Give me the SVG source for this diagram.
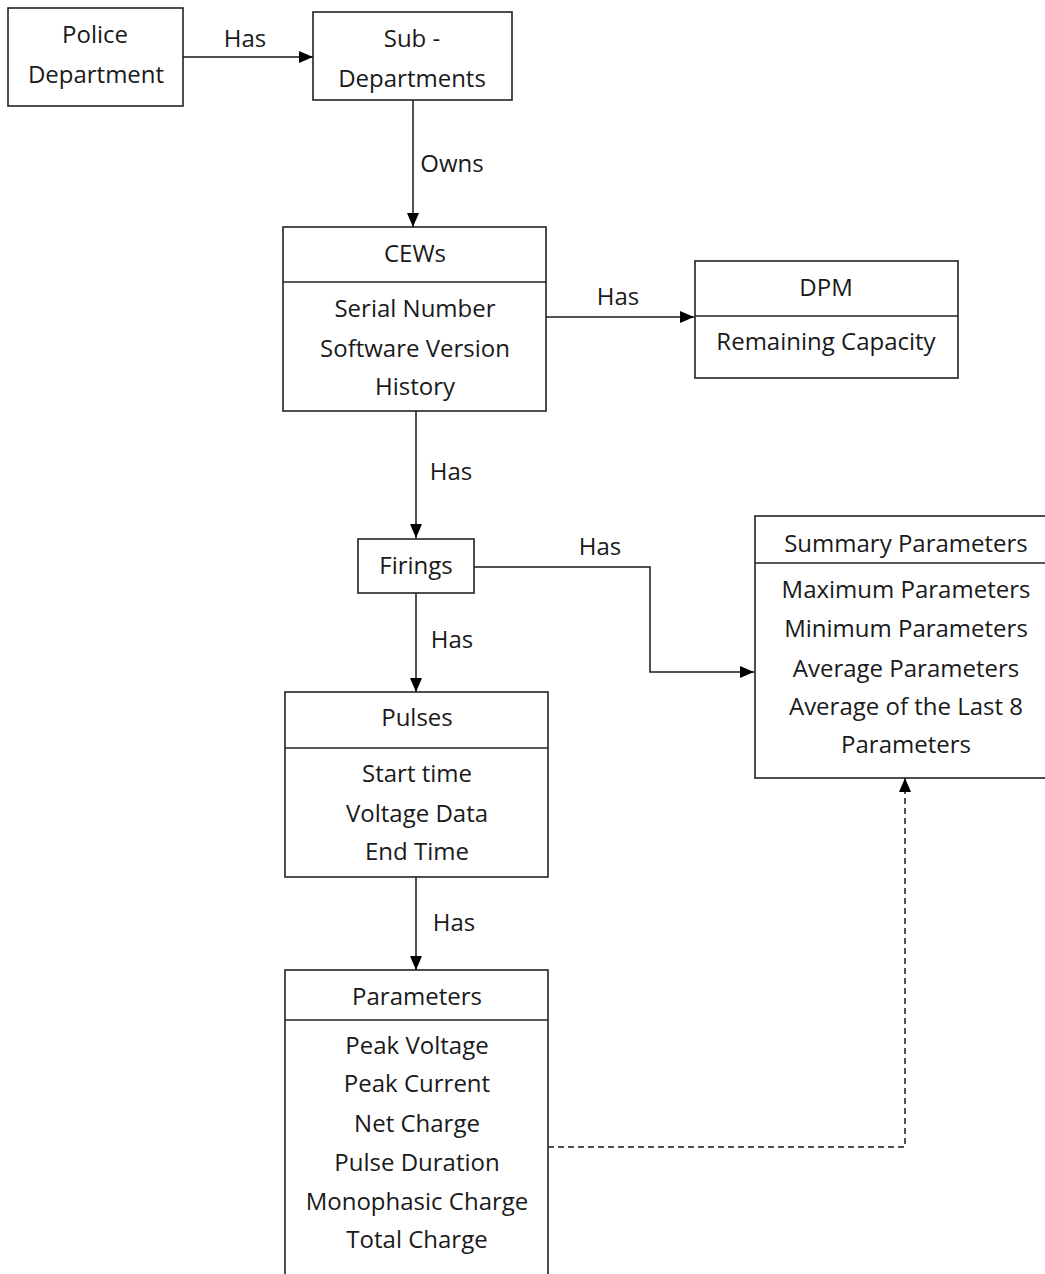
<svg xmlns="http://www.w3.org/2000/svg" width="1045" height="1274" viewBox="0 0 1045 1274">
<defs>
<style>
.box{fill:#fff;stroke:#222;stroke-width:1.6}
.div{stroke:#222;stroke-width:1.6}
text{font-family:"Open Sans","Liberation Sans",sans-serif;font-size:24px;fill:#1a1a1a;text-anchor:middle}
.con{fill:none;stroke:#1a1a1a;stroke-width:1.5}
.dash{fill:none;stroke:#1a1a1a;stroke-width:1.5;stroke-dasharray:6 4}
</style>
<marker id="ah" viewBox="0 0 14 12" refX="14" refY="6" markerWidth="14" markerHeight="12" markerUnits="userSpaceOnUse" orient="auto">
<path d="M0,0 L14,6 L0,12 Z" fill="#000"/>
</marker>
</defs>
<rect width="1045" height="1274" fill="#fff"/>

<g id="connectors">
<line class="con" x1="183" y1="57" x2="313" y2="57" marker-end="url(#ah)"/>
<text x="245" y="47">Has</text>
<line class="con" x1="413" y1="100" x2="413" y2="227" marker-end="url(#ah)"/>
<text x="452" y="172">Owns</text>
<line class="con" x1="546" y1="317" x2="694" y2="317" marker-end="url(#ah)"/>
<text x="618" y="305">Has</text>
<line class="con" x1="416" y1="411" x2="416" y2="538" marker-end="url(#ah)"/>
<text x="451" y="480">Has</text>
<polyline class="con" points="474,567 650,567 650,672 754,672" marker-end="url(#ah)"/>
<text x="600" y="555">Has</text>
<line class="con" x1="416" y1="593" x2="416" y2="692" marker-end="url(#ah)"/>
<text x="452" y="648">Has</text>
<line class="con" x1="416" y1="877" x2="416" y2="970" marker-end="url(#ah)"/>
<text x="454" y="931">Has</text>
<polyline class="dash" points="548,1147 905,1147 905,778" marker-end="url(#ah)"/>
</g>

<g id="police-department">
<rect class="box" x="8" y="8" width="175" height="98"/>
<text x="95" y="43">Police</text>
<text x="96" y="83">Department</text>
</g>

<g id="sub-departments">
<rect class="box" x="313" y="12" width="199" height="88"/>
<text x="412" y="47">Sub -</text>
<text x="412" y="87">Departments</text>
</g>

<g id="cews">
<rect class="box" x="283" y="227" width="263" height="184"/>
<line class="div" x1="283" y1="282" x2="546" y2="282"/>
<text x="415" y="262">CEWs</text>
<text x="415" y="317">Serial Number</text>
<text x="415" y="357">Software Version</text>
<text x="415" y="395">History</text>
</g>

<g id="dpm">
<rect class="box" x="695" y="261" width="263" height="117"/>
<line class="div" x1="695" y1="316" x2="958" y2="316"/>
<text x="826" y="296">DPM</text>
<text x="826" y="350">Remaining Capacity</text>
</g>

<g id="firings">
<rect class="box" x="358" y="539" width="116" height="54"/>
<text x="416" y="574">Firings</text>
</g>

<g id="summary-parameters">
<rect class="box" x="755" y="516" width="300" height="262"/>
<line class="div" x1="755" y1="563" x2="1055" y2="563"/>
<text x="906" y="552">Summary Parameters</text>
<text x="906" y="598">Maximum Parameters</text>
<text x="906" y="637">Minimum Parameters</text>
<text x="906" y="677">Average Parameters</text>
<text x="906" y="715">Average of the Last 8</text>
<text x="906" y="753">Parameters</text>
</g>

<g id="pulses">
<rect class="box" x="285" y="692" width="263" height="185"/>
<line class="div" x1="285" y1="748" x2="548" y2="748"/>
<text x="417" y="726">Pulses</text>
<text x="417" y="782">Start time</text>
<text x="417" y="822">Voltage Data</text>
<text x="417" y="860">End Time</text>
</g>

<g id="parameters">
<rect class="box" x="285" y="970" width="263" height="320"/>
<line class="div" x1="285" y1="1020" x2="548" y2="1020"/>
<text x="417" y="1005">Parameters</text>
<text x="417" y="1054">Peak Voltage</text>
<text x="417" y="1092">Peak Current</text>
<text x="417" y="1132">Net Charge</text>
<text x="417" y="1171">Pulse Duration</text>
<text x="417" y="1210">Monophasic Charge</text>
<text x="417" y="1248">Total Charge</text>
</g>
</svg>
